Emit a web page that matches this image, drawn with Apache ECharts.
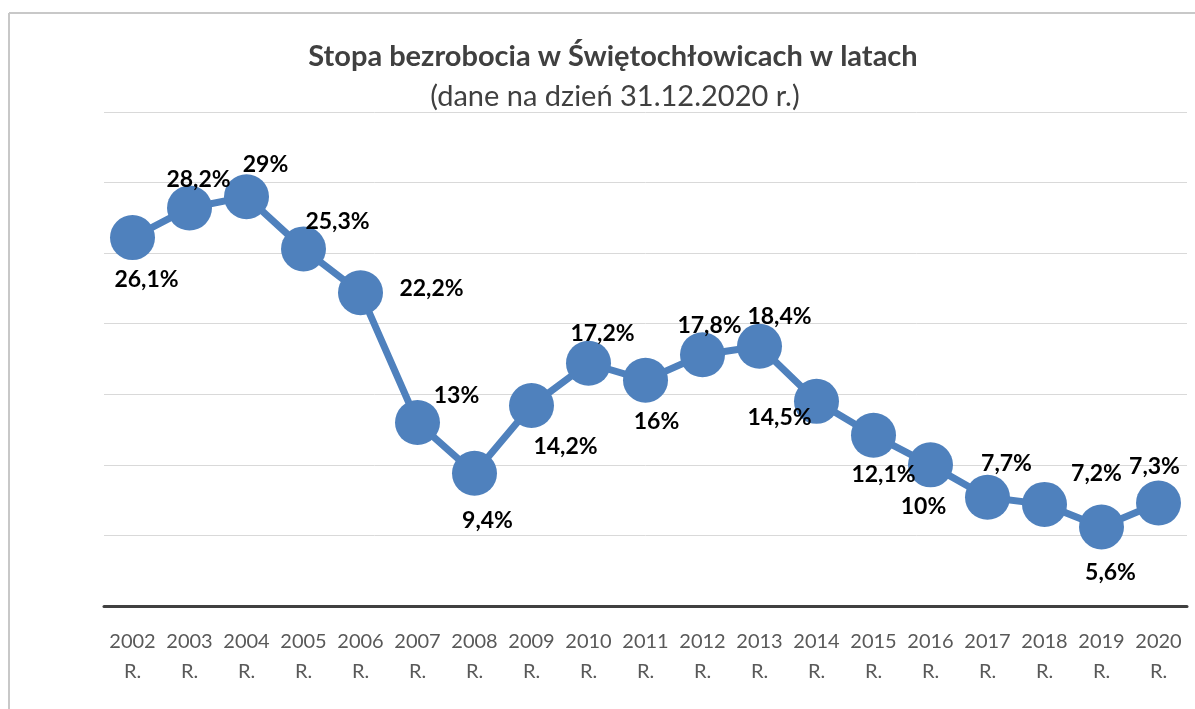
<!DOCTYPE html>
<html>
<head>
<meta charset="utf-8">
<script src="https://cdn.jsdelivr.net/npm/echarts@6/dist/echarts.min.js"></script>
<style>
html, body { margin: 0; padding: 0; background: #fff; }
#unemployment_chart { width: 1195px; height: 709px; }
</style>
</head>
<body>
<div id="unemployment_chart"></div>
<script>
// lata (kategorie osi X)
const years = ["2002 R.", "2003 R.", "2004 R.", "2005 R.", "2006 R.", "2007 R.", "2008 R.",
    "2009 R.", "2010 R.", "2011 R.", "2012 R.", "2013 R.", "2014 R.", "2015 R.", "2016 R.",
    "2017 R.", "2018 R.", "2019 R.", "2020 R."];
// stopa bezrobocia w %
const rates = [26.1, 28.2, 29, 25.3, 22.2, 13, 9.4, 14.2, 17.2, 16, 17.8, 18.4, 14.5, 12.1, 10, 7.7, 7.2, 5.6, 7.3];
// przesuniecie etykiet wzgledem punktu [dx, dy]
const labelOffsets = [[14, 42], [9, -28], [19, -32], [34, -27], [71, -4], [39, -27], [13, 47],
    [34, 41], [14, -30], [11, 41], [7, -29], [20, -30], [-37, 16], [10, 39], [-7, 42],
    [19, -34], [52, -31], [9, 46], [-4, -36]];

const chart = echarts.init(document.getElementById("unemployment_chart"));
const frameColor = "#c8c8c8";

chart.setOption({
    animation: false,
    textStyle: { fontFamily: "Lato" },
    title: [
        {
            text: "Stopa bezrobocia w Świętochłowicach w latach",
            left: 608,
            textAlign: "center",
            top: 37,
            textStyle: { fontFamily: "Lato", fontSize: 29, fontWeight: "bold", color: "#404040" }
        },
        {
            text: "(dane na dzień 31.12.2020 r.)",
            left: 610,
            textAlign: "center",
            top: 77,
            textStyle: { fontFamily: "Lato", fontSize: 29, fontWeight: "normal", color: "#404040" }
        }
    ],
    graphic: [
        { type: "line", shape: { x1: 9, y1: 13, x2: 1195, y2: 13 }, style: { stroke: frameColor, lineWidth: 2 } },
        { type: "line", shape: { x1: 9, y1: 13, x2: 9, y2: 709 }, style: { stroke: frameColor, lineWidth: 2 } }
    ],
    grid: {
        left: 104,
        right: 8,
        top: 112,
        bottom: 103
    },
    xAxis: {
        type: "category",
        data: years,
        boundaryGap: true,
        axisLine: { lineStyle: { color: "#404040", width: 3 } },
        axisTick: { show: false },
        axisLabel: {
            interval: 0,
            margin: 21,
            fontSize: 20,
            lineHeight: 30,
            color: "#595959",
            formatter: function (v) { return v.replace(" ", "\n"); }
        }
    },
    yAxis: {
        type: "value",
        min: 0,
        max: 35,
        interval: 5,
        axisLabel: { show: false },
        axisLine: { show: false },
        axisTick: { show: false },
        splitLine: { lineStyle: { color: "#d9d9d9", width: 1 } }
    },
    series: [{
        name: "Stopa bezrobocia",
        type: "line",
        symbol: "circle",
        symbolSize: 45,
        itemStyle: { color: "#4f81bd" },
        lineStyle: { color: "#4f81bd", width: 7 },
        data: rates.map(function (v, i) {
            return { value: v, label: { offset: labelOffsets[i] } };
        }),
        label: {
            show: true,
            position: "inside",
            fontSize: 23,
            fontWeight: "bold",
            color: "#000",
            formatter: function (p) { return String(p.value).replace(".", ",") + "%"; }
        },
        z: 3
    }]
});
</script>
</body>
</html>
